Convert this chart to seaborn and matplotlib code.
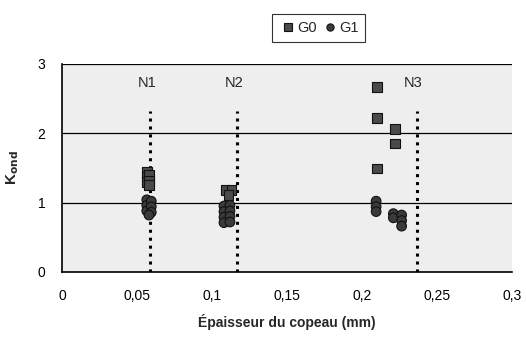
import numpy as np
import pandas as pd
import matplotlib
matplotlib.use("Agg")
import matplotlib.pyplot as plt
import seaborn as sns

# Valeurs
g0_x = [0.0565, 0.0565, 0.0565, 0.058, 0.058, 0.058,
        0.109, 0.113, 0.111,
        0.210, 0.210, 0.210, 0.222, 0.222]
g0_y = [1.44, 1.37, 1.30, 1.40, 1.32, 1.25,
        1.18, 1.18, 1.11,
        2.67, 2.22, 1.49, 2.06, 1.85]

g1_x = [0.0565, 0.0565, 0.0565, 0.0595, 0.0595, 0.0595, 0.058,
        0.108, 0.108, 0.108, 0.108, 0.112, 0.112, 0.112, 0.112,
        0.2095, 0.2095, 0.2095, 0.221, 0.221, 0.2265, 0.2265, 0.2265]
g1_y = [1.04, 0.96, 0.88, 1.02, 0.94, 0.86, 0.82,
        0.95, 0.87, 0.79, 0.71, 0.96, 0.88, 0.80, 0.72,
        1.02, 0.94, 0.87, 0.84, 0.78, 0.82, 0.74, 0.66]

niveaux = ["N1", "N2", "N3"]
niveaux_x = [0.0585, 0.1165, 0.2365]

df = pd.DataFrame({
    "x": g0_x + g1_x,
    "y": g0_y + g1_y,
    "groupe": ["G0"] * len(g0_x) + ["G1"] * len(g1_x),
})

sns.set_style("white")
plt.rcParams["font.family"] = ["Liberation Sans", "DejaVu Sans"]

fig = plt.figure(figsize=(5.26, 3.42), dpi=100)
ax = fig.add_axes([0.118, 0.205, 0.855, 0.608])
ax.set_facecolor("#eeeeee")

for v in [1, 2, 3]:
    ax.axhline(v, color="black", lw=0.9, zorder=1)

for nom, xv in zip(niveaux, niveaux_x):
    ax.plot([xv, xv], [0, 2.32], color="black", lw=2.2,
            linestyle=(0, (1, 1.6)), zorder=2)
    ax.text(xv - 0.002, 2.72, nom, ha="center", va="center", fontsize=10.5)

sns.scatterplot(data=df, x="x", y="y", hue="groupe", style="groupe",
                markers={"G0": "s", "G1": "o"},
                palette={"G0": "#4a4a4a", "G1": "#3a3a3a"},
                s=48, edgecolor="#111111", linewidth=0.8, ax=ax, zorder=3)

ax.set_xlim(0, 0.3)
ax.set_ylim(0, 3)
ax.set_xticks([0, 0.05, 0.1, 0.15, 0.2, 0.25, 0.3])
ax.set_xticklabels(["0", "0,05", "0,1", "0,15", "0,2", "0,25", "0,3"])
ax.set_yticks([0, 1, 2, 3])
ax.tick_params(axis="both", labelsize=10, length=4, width=1,
               direction="out", colors="black")
ax.tick_params(axis="y", pad=8)
ax.tick_params(axis="x", pad=8)

for s in ["top", "right"]:
    ax.spines[s].set_visible(False)
for s in ["left", "bottom"]:
    ax.spines[s].set_color("black")
    ax.spines[s].set_linewidth(1.2)

ax.set_xlabel("Épaisseur du copeau (mm)", fontsize=10, fontweight="bold",
              labelpad=8)
ax.set_ylabel(r"K$_{\mathbf{ond}}$", fontsize=11, fontweight="bold",
              labelpad=12)

leg = ax.legend(loc="center", bbox_to_anchor=(0.571, 1.173), ncol=2,
                frameon=True, fontsize=10.5, handletextpad=0.05,
                columnspacing=0.3, borderpad=0.45, fancybox=False,
                handlelength=1.2, markerscale=0.75, borderaxespad=0)
leg.get_frame().set_edgecolor("black")
leg.get_frame().set_linewidth(0.8)
leg.get_frame().set_facecolor("white")

fig.savefig("out.png", dpi=100)
